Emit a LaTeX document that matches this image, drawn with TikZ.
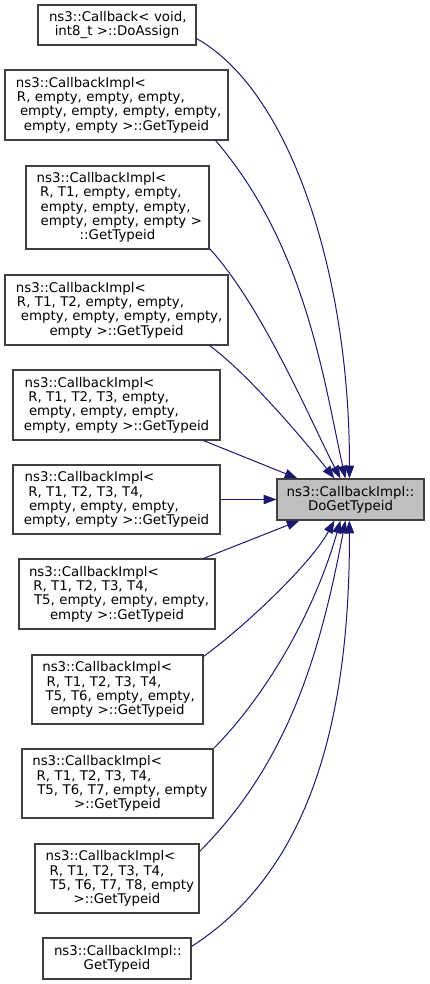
\documentclass[tikz,border=0pt]{standalone}
\usepackage{fontspec}
\setmainfont{DejaVu Sans}
\usetikzlibrary{arrows.meta,calc}
\newdimen\pxu \pxu=0.75pt
\newcommand\ind[1]{\hspace*{#1\pxu}}
\newcommand\ctr[1]{\hspace*{\fill}#1\hspace*{\fill}\mbox{}}
\definecolor{edgeblue}{HTML}{191970}
\definecolor{boxline}{HTML}{404040}
\definecolor{hlfill}{HTML}{BFBFBF}
\begin{document}
\begin{tikzpicture}[x=0.75pt,y=-0.75pt,
  cbox/.style 2 args={draw=boxline, line width=0.9pt, fill=white, inner sep=0pt,
    align=left, font=\fontsize{10pt}{10.7pt}\selectfont,
    text width=#1, minimum width=#1, minimum height=#2, anchor=center},
  edge/.style={draw=edgeblue, line width=0.75pt, -{Triangle[length=9.5pt,width=7pt]}}]
\useasboundingbox (0,0) rectangle (429,984);

\node[cbox={118.5pt}{30pt}] (A) at (117,25)
  {\ind{11}ns3::Callback< void,\\\ctr{int8\_t >::DoAssign}};
\node[cbox={167.25pt}{52.5pt}] (B) at (116.5,105)
  {\ind{11}ns3::CallbackImpl<\\\ind{12}R, empty, empty, empty,\\\ind{15}empty, empty, empty, empty,\\\ctr{empty, empty >::GetTypeid}};
\node[cbox={137.25pt}{62.25pt}] (C) at (117.5,207.5)
  {\ind{10.7}ns3::CallbackImpl<\\\ind{14}R, T1, empty, empty,\\\ind{14.7}empty, empty, empty,\\\ind{14.7}empty, empty, empty >\\\ctr{::GetTypeid}};
\node[cbox={167.25pt}{52.5pt}] (D) at (116.5,310)
  {\ind{11}ns3::CallbackImpl<\\\ind{12}R, T1, T2, empty, empty,\\\ind{16}empty, empty, empty, empty,\\\ctr{empty >::GetTypeid}};
\node[cbox={155.25pt}{52.5pt}] (E) at (116.5,405)
  {\ind{11.7}ns3::CallbackImpl<\\\ind{15.3}R, T1, T2, T3, empty,\\\ind{16}empty, empty, empty,\\\ctr{empty, empty >::GetTypeid}};
\node[cbox={155.25pt}{51.75pt}] (F) at (116.5,499.5)
  {\ind{11.7}ns3::CallbackImpl<\\\ind{15.3}R, T1, T2, T3, T4,\\\ind{16}empty, empty, empty,\\\ctr{empty, empty >::GetTypeid}};
\node[cbox={147pt}{52.5pt}] (G) at (117,594)
  {\ind{10}ns3::CallbackImpl<\\\ind{14.3}R, T1, T2, T3, T4,\\\ind{15}T5, empty, empty, empty,\\\ctr{empty >::GetTypeid}};
\node[cbox={128.25pt}{51.75pt}] (H) at (117.5,689.5)
  {\ind{10.3}ns3::CallbackImpl<\\\ind{14.7}R, T1, T2, T3, T4,\\\ind{13.7}T5, T6, empty, empty,\\\ctr{empty >::GetTypeid}};
\node[cbox={143.25pt}{51.75pt}] (I) at (117.5,783.5)
  {\ind{10.3}ns3::CallbackImpl<\\\ind{14.7}R, T1, T2, T3, T4,\\\ind{15.3}T5, T6, T7, empty, empty\\\ctr{>::GetTypeid}};
\node[cbox={123pt}{51.75pt}] (J) at (117,878.5)
  {\ind{10.7}ns3::CallbackImpl<\\\ind{14.7}R, T1, T2, T3, T4,\\\ind{15}T5, T6, T7, T8, empty\\\ctr{>::GetTypeid}};
\node[cbox={111pt}{30.75pt}] (K) at (117,958.5)
  {\ind{11}ns3::CallbackImpl::\\\ctr{GetTypeid}};
\node[cbox={110.25pt}{30.75pt}, fill=hlfill] (T) at (350.5,499.5)
  {\ctr{ns3::CallbackImpl::}\\\ctr{DoGetTypeid}};

\draw[edge] ($(A.south east)+(0,-7)$) .. controls (292,92) and (350,279) .. ($(T.north west)+(73,0)$);
\draw[edge] ($(B.south east)+(-13,0)$) .. controls (306,246) and (324,382) .. ($(T.north west)+(69,0)$);
\draw[edge] ($(C.south east)+(0,-1)$) .. controls (263,307) and (313,426) .. ($(T.north west)+(64,0)$);
\draw[edge] ($(D.south east)+(-19,0)$) .. controls (250,375) and (312,450) .. ($(T.north west)+(58,0)$);
\draw[edge] ($(E.south east)+(-17,0)$) -- ($(T.north west)+(21,0)$);
\draw[edge] (F.east) -- (T.west);
\draw[edge] ($(G.north east)+(-12,0)$) -- ($(T.south west)+(23,0)$);
\draw[edge] ($(H.north east)+(0,2)$) .. controls (243.5,627.5) and (310.5,564.5) .. ($(T.south west)+(58,0)$);
\draw[edge] (I.north east) .. controls (262.5,699.5) and (313,617) .. ($(T.south west)+(64,0)$);
\draw[edge] ($(J.north east)+(0,8)$) .. controls (290,761) and (321,649) .. ($(T.south west)+(69,0)$);
\draw[edge] ($(K.north east)+(0,9)$) .. controls (300,877) and (350,741) .. ($(T.south west)+(73,0)$);
\end{tikzpicture}
\end{document}
